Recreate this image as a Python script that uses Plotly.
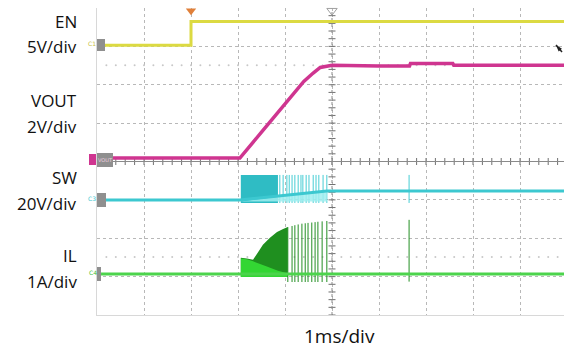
import numpy as np
import plotly.graph_objects as go

# ---------------- data (time in ms, 1 ms/div) ----------------
# channel scales (units/div) and ground offsets (div)
en_scale, vout_scale, sw_scale, il_scale = 5.0, 2.0, 20.0, 1.0
en_off, vout_off, sw_off, il_off = 3.03, 0.09, -1.0, -2.93

# EN (V)
en_t = [0.0, 2.0, 2.0, 10.0]
en_v = [0.0, 0.0, 3.1, 3.1]

# VOUT (V)
vout_t = [0.0, 3.04, 3.5, 4.0, 4.4, 4.6, 4.75, 5.0, 5.5, 6.0, 6.65, 6.67, 7.2, 7.57, 7.59, 8.5, 10.0]
vout_v = [0.0, 0.0, 1.35, 2.81, 3.99, 4.43, 4.72, 4.84, 4.80, 4.80, 4.80, 4.93, 4.93, 4.93, 4.84, 4.84, 4.84]

# SW (V)
sw_t = [0.0, 3.04, 4.89, 10.0]
sw_v = [0.0, 0.0, 4.6, 4.6]
sw_dense_t = [3.06, 3.85]          # dense switching band
sw_top, sw_bot = 13.0, -1.6
sw_pulse_t = [3.89, 3.96, 4.04, 4.09, 4.15, 4.21, 4.28, 4.34, 4.38, 4.45,
              4.51, 4.60, 4.66, 4.72, 4.81, 4.89]
sw_spike_t = 6.64
sw_spike = [-1.6, 13.0]

# IL (A)
il_t = [0.0, 10.0]
il_v = [0.0, 0.0]
il_env_t = [3.06, 3.06, 3.19, 3.32, 3.43, 3.53, 3.68, 3.83, 3.96, 4.04, 4.06]
il_env_v = [-0.08, 0.42, 0.40, 0.37, 0.57, 0.76, 0.94, 1.09, 1.17, 1.21, 1.22]
il_light_t = [3.06, 3.06, 3.19, 3.32, 3.60, 3.85, 4.05, 4.05]
il_light_v = [-0.08, 0.40, 0.38, 0.33, 0.20, 0.08, 0.02, -0.08]
il_pulse_t = [4.06, 4.15, 4.21, 4.28, 4.36, 4.43, 4.49, 4.57, 4.64, 4.70, 4.79, 4.89]
il_pulse_v = [1.22, 1.25, 1.27, 1.29, 1.31, 1.32, 1.33, 1.34, 1.35, 1.36, 1.37, 1.38]
il_pulse_low = -0.21
il_spike_t = 6.64
il_spike = [-0.2, 1.41]

channel_labels = ["EN", "5V/div", "VOUT", "2V/div", "SW", "20V/div", "IL", "1A/div"]
time_label = "1ms/div"

# ---------------- helpers ----------------
def pos(vals, off, scale):
    return [off + v / scale for v in vals]

def vlines(ts, lo, hi):
    xs, ys = [], []
    for t, l, h in zip(ts, lo, hi):
        xs += [t, t, None]
        ys += [l, h, None]
    return xs, ys

# pixel -> paper helpers (plot area: x 97..564, y 8..315)
def ppx(x):
    return (x - 97) / 467

def ppy(y):
    return (315 - y) / 307

YEL = "#dcda42"
MAG = "#cf3590"
CYN = "#3cc8d0"
GRN = "#4cd44c"
DGRN = "#1f8f1f"

fig = go.Figure()

# faint dotted marker rows
dots_x = np.arange(0.2, 10, 0.2)
for yy in (2.51, -2.49):
    fig.add_trace(go.Scatter(x=dots_x, y=[yy] * len(dots_x), mode="markers",
                             marker=dict(size=2, color="#c8c8c8"), hoverinfo="skip", showlegend=False))

# center axis ticks
tx = np.arange(0, 10, 0.2)
fig.add_trace(go.Scatter(x=tx, y=[0] * len(tx), mode="markers",
                         marker=dict(symbol="line-ns", size=5, line=dict(width=1, color="#707070")),
                         hoverinfo="skip", showlegend=False))
ty = np.arange(-4, 4, 0.2)
fig.add_trace(go.Scatter(x=[5] * len(ty), y=ty, mode="markers",
                         marker=dict(symbol="line-ew", size=5, line=dict(width=1, color="#707070")),
                         hoverinfo="skip", showlegend=False))
fig.add_trace(go.Scatter(x=[0, 10], y=[0, 0], mode="lines", line=dict(color="#8a8a8a", width=1),
                         hoverinfo="skip", showlegend=False))
fig.add_trace(go.Scatter(x=[5, 5], y=[-4, 4], mode="lines", line=dict(color="#8a8a8a", width=1, dash="dot"),
                         hoverinfo="skip", showlegend=False))

# EN
fig.add_trace(go.Scatter(x=en_t, y=pos(en_v, en_off, en_scale), mode="lines",
                         line=dict(color=YEL, width=3, shape="linear"), showlegend=False))
# VOUT
fig.add_trace(go.Scatter(x=vout_t, y=pos(vout_v, vout_off, vout_scale), mode="lines",
                         line=dict(color=MAG, width=3.5), showlegend=False))

# SW dense band
bx = [sw_dense_t[0], sw_dense_t[1], sw_dense_t[1], sw_dense_t[0]]
by = pos([sw_bot, sw_bot, sw_top, sw_top], sw_off, sw_scale)
fig.add_trace(go.Scatter(x=bx, y=by, fill="toself", mode="lines", line=dict(width=0),
                         fillcolor="#2fbcc4", showlegend=False, hoverinfo="skip"))
# SW sparse pulses
px_, py_ = vlines(sw_pulse_t + [sw_spike_t],
                  pos([sw_bot] * len(sw_pulse_t) + [sw_spike[0]], sw_off, sw_scale),
                  pos([sw_top] * len(sw_pulse_t) + [sw_spike[1]], sw_off, sw_scale))
fig.add_trace(go.Scatter(x=px_, y=py_, mode="lines", line=dict(color="#46cdd4", width=1),
                         showlegend=False, hoverinfo="skip"))
# SW pale wedge (average level rising)
wx = [sw_t[1], sw_t[2], sw_t[2], sw_t[1]]
wy = pos([sw_bot * 0.5, sw_v[2], sw_bot * 0.5, sw_bot * 0.5], sw_off, sw_scale)
fig.add_trace(go.Scatter(x=wx, y=wy, fill="toself", mode="lines", line=dict(width=0),
                         fillcolor="rgba(160,238,240,0.85)", showlegend=False, hoverinfo="skip"))
fig.add_trace(go.Scatter(x=sw_t, y=pos(sw_v, sw_off, sw_scale), mode="lines",
                         line=dict(color=CYN, width=3), showlegend=False))

# IL dense region
fig.add_trace(go.Scatter(x=il_env_t + [il_env_t[-1]], y=pos(il_env_v + [-0.08], il_off, il_scale),
                         fill="toself", mode="lines", line=dict(width=0), fillcolor=DGRN,
                         showlegend=False, hoverinfo="skip"))
fig.add_trace(go.Scatter(x=il_light_t, y=pos(il_light_v, il_off, il_scale), fill="toself", mode="lines",
                         line=dict(width=0), fillcolor="#33d633", showlegend=False, hoverinfo="skip"))
# IL sparse pulses
qx, qy = vlines(il_pulse_t + [il_spike_t],
                pos([il_pulse_low] * len(il_pulse_t) + [il_spike[0]], il_off, il_scale),
                pos(il_pulse_v + [il_spike[1]], il_off, il_scale))
fig.add_trace(go.Scatter(x=qx, y=qy, mode="lines", line=dict(color="#238f23", width=1),
                         showlegend=False, hoverinfo="skip"))
fig.add_trace(go.Scatter(x=il_t, y=pos(il_v, il_off, il_scale), mode="lines",
                         line=dict(color=GRN, width=3), showlegend=False))

# trigger markers at top
fig.add_trace(go.Scatter(x=[2.0], y=[3.93], mode="markers", cliponaxis=False,
                         marker=dict(symbol="triangle-down", size=9, color="#e0803a"),
                         showlegend=False, hoverinfo="skip"))
fig.add_trace(go.Scatter(x=[5.0], y=[3.93], mode="markers", cliponaxis=False,
                         marker=dict(symbol="triangle-down-open", size=9, color="#a0a0a0"),
                         showlegend=False, hoverinfo="skip"))

# channel ground marker boxes (paper coords)
def pbox(x0, x1, y0, y1, color):
    return dict(type="rect", xref="paper", yref="paper",
                x0=ppx(x0), x1=ppx(x1), y0=ppy(y1), y1=ppy(y0),
                fillcolor=color, line=dict(width=0), layer="above")

shapes = [
    pbox(97, 105, 39, 51, "#8f8f8f"),
    pbox(97, 113, 153, 167, "#8f8f8f"),
    pbox(89, 96, 154, 165, MAG),
    pbox(97, 106, 193, 207, "#8f8f8f"),
    pbox(97, 101, 267, 281, "#8f8f8f"),
    # mouse cursor tail
    dict(type="line", xref="paper", yref="paper", x0=ppx(556), y0=ppy(45), x1=ppx(562), y1=ppy(52),
         line=dict(color="#222", width=1.5), layer="above"),
]

label_y_px = [21, 47, 100, 127, 177, 203, 255, 281]
annotations = []
for txt, ypx in zip(channel_labels, label_y_px):
    annotations.append(dict(x=ppx(79), y=ppy(ypx), xref="paper", yref="paper", text=txt, showarrow=False,
                            xanchor="right", yanchor="middle",
                            font=dict(family="Open Sans", size=17, color="#111")))
annotations.append(dict(x=ppx(339), y=ppy(336), xref="paper", yref="paper", text=time_label,
                        showarrow=False, xanchor="center", yanchor="middle",
                        font=dict(family="Open Sans", size=19, color="#111")))
for txt, xx, yy, col in [("C1", 92, 43, "#c8c040"), ("C3", 92, 198, CYN), ("C4", 93, 272, "#3cbf3c")]:
    annotations.append(dict(x=ppx(xx), y=ppy(yy), xref="paper", yref="paper", text=txt,
                            showarrow=False, xanchor="center", yanchor="middle",
                            font=dict(family="DejaVu Sans", size=6, color=col)))
annotations.append(dict(x=ppx(105), y=ppy(160), xref="paper", yref="paper", text="VOUT",
                        showarrow=False, xanchor="center", yanchor="middle",
                        font=dict(family="DejaVu Sans", size=5, color="#f0d0e0")))

fig.update_layout(
    width=564, height=350, autosize=False,
    margin=dict(l=97, r=0, t=8, b=35, autoexpand=False),
    paper_bgcolor="white", plot_bgcolor="white",
    shapes=shapes, annotations=annotations,
    xaxis=dict(range=[0, 467 / 47], dtick=1, tick0=0, showticklabels=False, ticks="",
               showgrid=True, gridcolor="#b8b8b8", griddash="dot", gridwidth=1,
               zeroline=False, showline=True, linecolor="#d8d8d8", mirror=False, fixedrange=True),
    yaxis=dict(range=[-4, 4], dtick=1, tick0=0, showticklabels=False, ticks="",
               showgrid=True, gridcolor="#b8b8b8", griddash="dot", gridwidth=1,
               zeroline=False, showline=True, linecolor="#d8d8d8", mirror=True, fixedrange=True),
    showlegend=False,
)

# cursor head (small arrow marker pointing up-left)
fig.add_trace(go.Scatter(x=[(556 - 97) / 47], y=[(161.5 - 45) / 38.375], mode="markers",
                         marker=dict(symbol="arrow", size=7, angle=-40, color="#222"),
                         showlegend=False, hoverinfo="skip"))

fig.write_html("out.html", config={"responsive": False, "displayModeBar": False},
               post_script="document.body.style.margin='0px';document.body.style.overflow='hidden';")
